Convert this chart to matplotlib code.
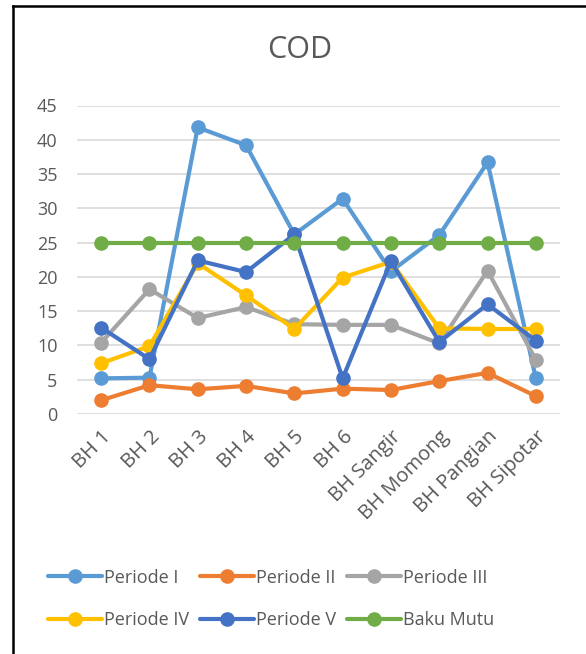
import matplotlib
matplotlib.use("Agg")
import matplotlib.pyplot as plt
from matplotlib.lines import Line2D

categories = ["BH 1", "BH 2", "BH 3", "BH 4", "BH 5", "BH 6",
              "BH Sangir", "BH Momong", "BH Pangian", "BH Sipotar"]
periode_1 = [5.2, 5.3, 41.8, 39.2, 26.2, 31.4, 20.8, 26.1, 36.7, 5.2]
periode_2 = [2.0, 4.2, 3.6, 4.1, 3.0, 3.7, 3.5, 4.8, 6.0, 2.6]
periode_3 = [10.4, 18.2, 14.0, 15.6, 13.1, 13.0, 13.0, 10.3, 20.9, 7.9]
periode_4 = [7.4, 9.9, 22.0, 17.3, 12.4, 19.9, 22.2, 12.5, 12.4, 12.4]
periode_5 = [12.6, 8.0, 22.4, 20.7, 26.2, 5.2, 22.3, 10.5, 16.0, 10.7]
baku_mutu = [25, 25, 25, 25, 25, 25, 25, 25, 25, 25]
series_names = ["Periode I", "Periode II", "Periode III", "Periode IV", "Periode V", "Baku Mutu"]
series_vals = [periode_1, periode_2, periode_3, periode_4, periode_5, baku_mutu]
colors = ["#5B9BD5", "#ED7D31", "#A5A5A5", "#FFC000", "#4472C4", "#70AD47"]
yticks = [0, 5, 10, 15, 20, 25, 30, 35, 40, 45]

FONT = ["Open Sans", "DejaVu Sans"]
TXT = "#595959"
plt.rcParams["font.family"] = FONT

W, H = 586, 654
fig = plt.figure(figsize=(W / 100, H / 100), dpi=100)
ax = fig.add_axes([77 / W, (H - 414) / H, (560 - 77) / W, (414 - 105.5) / H])

x = list(range(len(categories)))
handles = []
for name, vals, c in zip(series_names, series_vals, colors):
    h, = ax.plot(x, vals, color=c, lw=3.0, marker="o", ms=9.5,
                 solid_capstyle="round", solid_joinstyle="round", label=name)
    handles.append(h)

ax.set_xlim(-0.5, len(categories) - 0.5)
ax.set_ylim(0, 45)
ax.set_yticks(yticks)
ax.grid(axis="y", color="#D9D9D9", lw=1.2)
ax.set_axisbelow(True)
for s in ax.spines.values():
    s.set_visible(False)
ax.tick_params(axis="both", length=0, labelsize=13, colors=TXT)
ax.tick_params(axis="y", pad=14)
ax.set_xticks(x)
ax.set_xticklabels(categories, rotation=45, ha="right", va="top",
                   rotation_mode="anchor", fontsize=14.5)
ax.tick_params(axis="x", pad=9)

fig.text(300 / W, 1 - 50 / H, "COD", ha="center", va="center",
         fontsize=22, color=TXT)

order = [0, 3, 1, 4, 2, 5]
leg = fig.legend([handles[i] for i in order], [series_names[i] for i in order],
                 ncol=3, loc="center", bbox_to_anchor=(271 / W, 1 - 599 / H),
                 frameon=False, fontsize=13, labelcolor=TXT,
                 handlelength=3.0, handletextpad=0.1, columnspacing=0.6,
                 labelspacing=1.35)

fig.add_artist(Line2D([13 / W, 13 / W], [0, 1 - 6 / H], color="black", lw=1.8,
                      transform=fig.transFigure))
fig.add_artist(Line2D([13 / W, 1], [1 - 6 / H, 1 - 6 / H], color="black", lw=1.8,
                      transform=fig.transFigure))

fig.savefig("out.png", dpi=100, facecolor="white")
